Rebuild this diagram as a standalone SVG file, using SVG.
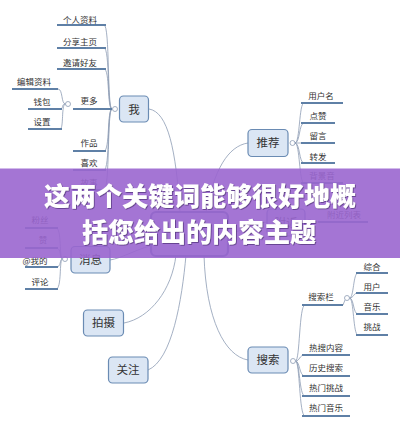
<svg xmlns="http://www.w3.org/2000/svg" width="400" height="427" viewBox="0 0 400 427">
<defs>
<style>
.conn{fill:none;stroke:#8d9cb4;stroke-width:0.8}
.ul{fill:none;stroke:#5f80a6;stroke-width:1.8}
.leaf{font-family:"Noto Sans CJK SC","Noto Sans",sans-serif;font-size:8.5px;fill:#333;text-anchor:middle}
.node rect{fill:#dbe6f4;stroke:#6a8bb3;stroke-width:1.2}
.node text{font-family:"Noto Sans CJK SC","Noto Sans",sans-serif;font-size:11.5px;fill:#333;text-anchor:middle}
.dot{fill:#fff;stroke:#8d9cb4;stroke-width:0.8}
.band text{font-family:"Noto Sans CJK SC",sans-serif;font-weight:900;font-size:26px;fill:#fff;text-anchor:middle}
</style>
<filter id="sh" x="-5%" y="-20%" width="110%" height="140%">
<feDropShadow dx="0.8" dy="0.8" stdDeviation="0.7" flood-color="#3a2360" flood-opacity="0.7"/>
</filter>
</defs>
<rect width="400" height="427" fill="#fff"/>
<g id="connectors">
<path class="conn" d="M149,109 C168,112 176,150 180,212"/>
<path class="conn" d="M248,143 C228,146 214,170 206,212"/>
<path class="conn" d="M150,246 C135,250 122,258 110,260"/>
<path class="conn" d="M124,323 C150,318 172,290 176,255"/>
<path class="conn" d="M148,370 C172,360 182,300 186,255"/>
<path class="conn" d="M248,360 C225,356 206,320 204,255"/>
<path class="conn" d="M228,234 C245,230 255,223 267,222"/>
<path class="conn" d="M112,109 C107,109 110,25 104,25"/>
<path class="conn" d="M112,109 C107,109 110,48 104,48"/>
<path class="conn" d="M112,109 C107,109 110,69 104,69"/>
<path class="conn" d="M112,109 C107,109 110,151 104,151"/>
<path class="conn" d="M112,109 C107,109 110,170 104,170"/>
<path class="conn" d="M112,109 C107,109 110,190 104,190"/>
<path class="conn" d="M65.5,104 C61,104 63,89 58,89"/>
<path class="conn" d="M65.5,104 C61,104 64,109 60,109"/>
<path class="conn" d="M65.5,104 C61,104 64,129 60,129"/>
<path class="conn" d="M295,143 C300,143 299,103 304,103"/>
<path class="conn" d="M295,143 C300,143 299,123 304,123"/>
<path class="conn" d="M295,143 C300,143 300,143 304,143"/>
<path class="conn" d="M295,143 C300,143 299,163 304,163"/>
<path class="conn" d="M295,143 C300,143 299,183 304,183"/>
<path class="conn" d="M312,222 L320,222"/>
<path class="conn" d="M62.5,259 C59,259 62,228 56,228"/>
<path class="conn" d="M62.5,259 C59,259 62,248 56,248"/>
<path class="conn" d="M62.5,259 C59,259 62,267 56,267"/>
<path class="conn" d="M62.5,259 C59,259 62,289 56,289"/>
<path class="conn" d="M295.5,361 C300,361 299,305 305,305"/>
<path class="conn" d="M295.5,361 C300,361 299,355 305,355"/>
<path class="conn" d="M295.5,361 C300,361 299,376 305,376"/>
<path class="conn" d="M295.5,361 C300,361 299,396 305,396"/>
<path class="conn" d="M295.5,361 C300,361 299,416 305,416"/>
<path class="conn" d="M343,305 L345,300"/>
<path class="conn" d="M349.5,298 C354,298 353,273 358,273"/>
<path class="conn" d="M349.5,298 C354,298 353,293 358,293"/>
<path class="conn" d="M349.5,298 C354,298 353,314 358,314"/>
<path class="conn" d="M349.5,298 C354,298 353,335 358,335"/>
</g>
<g id="underlines">
<path class="ul" d="M57,25H106M57,48H106M57,69H106M73,109H112M73,151H106M73,170H106M73,190H106"/>
<path class="ul" d="M12,89H58M28,109H62M28,129H62"/>
<path class="ul" d="M301,103H343M301,123H335M301,143H335M301,163H335M301,183H343M318,222H368"/>
<path class="ul" d="M25,228H58M25,248H58M25,267H58M25,289H58"/>
<path class="ul" d="M302,305H343M302,355H350M302,376H350M302,396H350M302,416H350"/>
<path class="ul" d="M356,273H388M356,293H388M356,314H388M356,335H388"/>
</g>
<g id="dots">
<circle class="dot" cx="115" cy="109" r="2.5"/>
<circle class="dot" cx="68" cy="104" r="2.5"/>
<circle class="dot" cx="292.5" cy="143" r="2.5"/>
<circle class="dot" cx="65" cy="259" r="2.5"/>
<circle class="dot" cx="293" cy="361" r="2.5"/>
<circle class="dot" cx="347" cy="298" r="2.5"/>
<circle class="dot" cx="309.5" cy="222" r="2.5"/>
</g>
<g id="leaves">
<text class="leaf" x="80" y="22.5">个人资料</text>
<text class="leaf" x="80" y="45">分享主页</text>
<text class="leaf" x="80" y="65.5">邀请好友</text>
<text class="leaf" x="89" y="104">更多</text>
<text class="leaf" x="89" y="146">作品</text>
<text class="leaf" x="89" y="166">喜欢</text>
<text class="leaf" x="89" y="186">故事</text>
<text class="leaf" x="34" y="85">编辑资料</text>
<text class="leaf" x="42" y="105">钱包</text>
<text class="leaf" x="42" y="125">设置</text>
<text class="leaf" x="321" y="99">用户名</text>
<text class="leaf" x="318" y="119">点赞</text>
<text class="leaf" x="318" y="139">留言</text>
<text class="leaf" x="318" y="159.5">转发</text>
<text class="leaf" x="322" y="179">背景音</text>
<text class="leaf" x="344" y="217.5">附近列表</text>
<text class="leaf" x="40" y="222.5">粉丝</text>
<text class="leaf" x="43" y="243">赞</text>
<text class="leaf" x="35" y="264">@我的</text>
<text class="leaf" x="40" y="285">评论</text>
<text class="leaf" x="321" y="300">搜索栏</text>
<text class="leaf" x="326" y="351">热搜内容</text>
<text class="leaf" x="326" y="371">历史搜索</text>
<text class="leaf" x="326" y="391">热门挑战</text>
<text class="leaf" x="326" y="411">热门音乐</text>
<text class="leaf" x="372" y="270">综合</text>
<text class="leaf" x="372" y="290">用户</text>
<text class="leaf" x="372" y="310">音乐</text>
<text class="leaf" x="372" y="330">挑战</text>
</g>
<g id="root" class="node"><rect x="151" y="212" width="77" height="44" rx="5" style="stroke-width:2.2;stroke:#5a7aa3"/></g>
<g id="n-wo" class="node"><rect x="119.5" y="96" width="29" height="26" rx="4"/><text x="134" y="113.5">我</text></g>
<g id="n-tuijian" class="node"><rect x="248" y="129.5" width="40" height="27" rx="4"/><text x="268" y="147">推荐</text></g>
<g id="n-fujin" class="node"><rect x="267" y="209" width="38" height="27" rx="4"/><text x="286" y="226.5">附近</text></g>
<g id="n-xiaoxi" class="node"><rect x="71" y="246.5" width="39" height="26.5" rx="4"/><text x="90.5" y="264">消息</text></g>
<g id="n-paishe" class="node"><rect x="83.5" y="310" width="40" height="26" rx="4"/><text x="103.5" y="327">拍摄</text></g>
<g id="n-guanzhu" class="node"><rect x="108.5" y="357" width="39.5" height="26" rx="4"/><text x="128" y="374">关注</text></g>
<g id="n-sousuo" class="node"><rect x="248" y="347" width="40" height="26" rx="4"/><text x="268" y="364">搜索</text></g>
<g id="band" class="band">
<rect x="0" y="168.5" width="400" height="89.5" fill="#9a66cf" fill-opacity="0.9"/>
<g filter="url(#sh)">
<text x="200" y="206">这两个关键词能够很好地概</text>
<text x="199" y="242">括您给出的内容主题</text>
</g>
</g>
</svg>
